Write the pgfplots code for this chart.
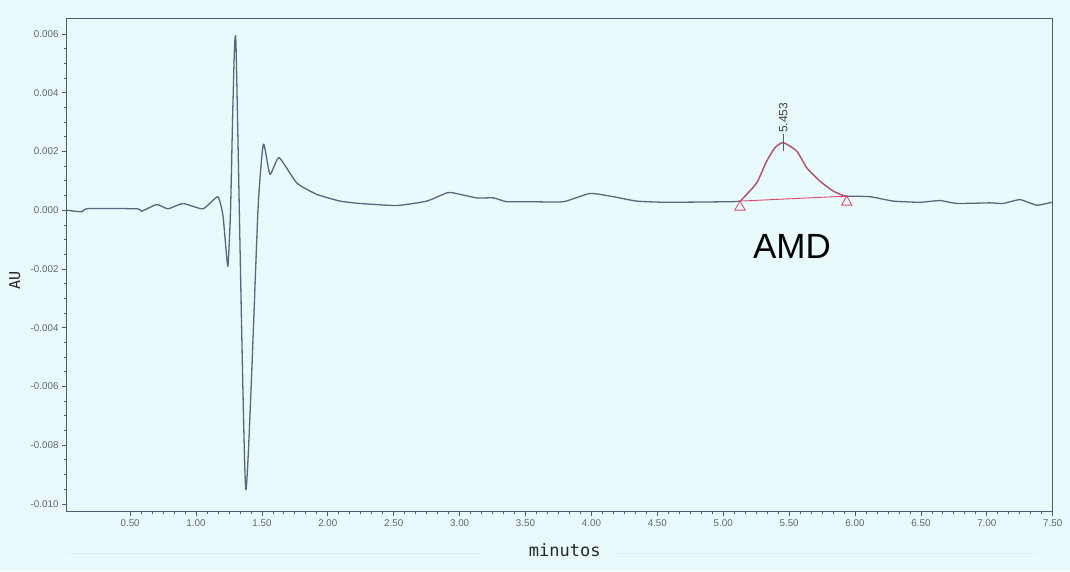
\documentclass[border=0pt]{standalone}
\usepackage{pgfplots}
\pgfplotsset{compat=1.18}
\usepackage{fontspec}
\setmainfont{Liberation Sans}
\newfontfamily\monofont{DejaVu Sans Mono}
\definecolor{bg}{RGB}{233,250,252}
\definecolor{axcol}{RGB}{78,90,118}
\definecolor{curve}{RGB}{92,100,128}
\definecolor{ticklab}{RGB}{96,100,110}
\definecolor{peakred}{RGB}{218,72,110}

\begin{document}
\begin{tikzpicture}[x=1pt,y=1pt]
\fill[bg] (0,0) rectangle (1070,571);
\useasboundingbox (0,0) rectangle (1070,571);
\draw[bg!88!gray, line width=0.8pt, dash pattern=on 3pt off 1pt] (67,18) -- (478,18);
\draw[bg!88!gray, line width=0.8pt, dash pattern=on 3pt off 1pt] (617,18) -- (1037,18);
\begin{axis}[
  at={(67pt,60pt)}, anchor=south west, scale only axis,
  width=985.7pt, height=492pt,
  xmin=0.021, xmax=7.5, ymin=-0.01024, ymax=0.00651,
  axis line style={axcol, line width=1pt},
  xtick={0.5,1,1.5,2,2.5,3,3.5,4,4.5,5,5.5,6,6.5,7,7.5},
  ytick={-0.010,-0.008,-0.006,-0.004,-0.002,0,0.002,0.004,0.006},
  minor x tick num=5, minor y tick num=3,
  tick align=outside, xtick pos=bottom, ytick pos=left,
  major tick length=5pt, minor tick length=3pt,
  tick style={axcol, line width=0.8pt},
  scaled x ticks=false, scaled y ticks=false,
  /pgf/number format/assume math mode=true,
  tick label style={font=\fontsize{9.8}{10}\selectfont, text=ticklab},
  xticklabel style={/pgf/number format/fixed, /pgf/number format/fixed zerofill, /pgf/number format/precision=2},
  yticklabel style={/pgf/number format/fixed, /pgf/number format/fixed zerofill, /pgf/number format/precision=3},
  xlabel={minutos},
  xlabel style={at={(axis description cs:0.505,-0.079)}, anchor=center, font=\monofont\fontsize{17}{18}\selectfont, text=black!85},
  ylabel={AU},
  ylabel style={at={(axis description cs:-0.053,0.4695)}, anchor=center, font=\monofont\fontsize{15}{16}\selectfont, text=black!85},
  clip=false,
]
\addplot[curve, line width=1.3pt, line join=round, smooth, tension=0.3] coordinates {
(0.021,0.0000) (0.133,-0.000055) (0.181,0.000058) (0.552,0.000048) (0.588,-0.000034)
(0.702,0.000194) (0.788,0.000048) (0.901,0.000228) (1.053,0.000048) (1.165,0.000457)
(1.205,-0.000205) (1.241,-0.00191) (1.262,0.0000) (1.281,0.00378) (1.303,0.00566) (1.377,-0.0095)
(1.470,0.0000) (1.511,0.00225) (1.561,0.00122) (1.630,0.00179) (1.764,0.00093) (1.916,0.00054)
(2.093,0.00031) (2.244,0.00023) (2.523,0.00016) (2.750,0.00031) (2.902,0.00059)
(2.952,0.00059) (3.130,0.00042) (3.256,0.00042) (3.357,0.00029) (3.534,0.00029)
(3.787,0.00029) (3.989,0.00057) (4.166,0.00046) (4.344,0.00031) (4.571,0.00027)
(5.052,0.00029) (5.127,0.00031) (5.153,0.00042) (5.254,0.00093) (5.330,0.00167)
(5.393,0.00213) (5.456,0.00230) (5.558,0.00201) (5.633,0.00145) (5.734,0.00099)
(5.835,0.00065) (5.911,0.00050) (5.937,0.00048) (6.114,0.00046) (6.291,0.00031)
(6.493,0.00027) (6.645,0.00033) (6.772,0.00023) (7.024,0.00025) (7.125,0.00023)
(7.252,0.00036) (7.379,0.00017) (7.492,0.00027)
};
\addplot[peakred, line width=0.9pt, line join=round, smooth, tension=0.5] coordinates {
(5.127,0.00031) (5.153,0.00042) (5.254,0.00093) (5.330,0.00167) (5.393,0.00213)
(5.456,0.00230) (5.558,0.00201) (5.633,0.00145) (5.734,0.00099) (5.835,0.00065)
(5.911,0.00050) (5.937,0.00048)
};
\addplot[peakred, line width=0.9pt] coordinates {(5.127,0.00031) (5.937,0.00048)};
\addplot[peakred, only marks, mark=triangle, mark size=6pt,
  mark options={yshift=-6pt, line width=0.8pt, fill=none}]
  coordinates {(5.127,0.00031) (5.937,0.00048)};
\draw[axcol, line width=0.9pt] (axis cs:5.456,0.00201) -- (axis cs:5.456,0.00258);
\node[anchor=west, rotate=90, inner sep=1.5pt, font=\fontsize{12}{13}\selectfont, text=black!75]
  at (axis cs:5.456,0.00258) {5.453};
\node[font=\fontsize{35}{36}\selectfont, text=black, anchor=center] at (axis cs:5.522,-0.00124) {AMD};
\end{axis}
\end{tikzpicture}
\end{document}
